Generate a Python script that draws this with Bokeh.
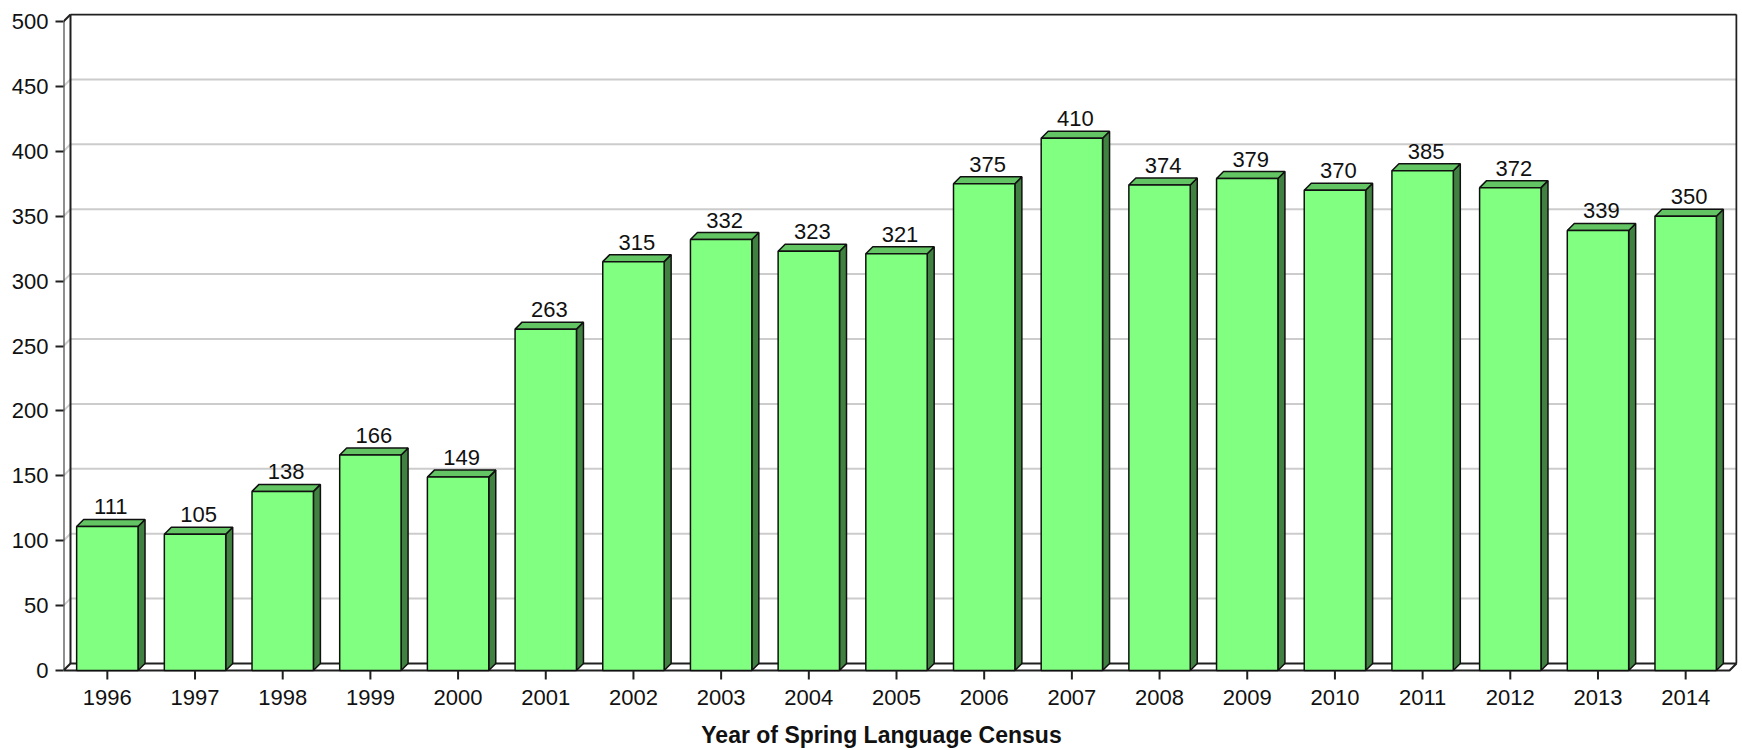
from bokeh.plotting import figure
from bokeh.models import FixedTicker, Range1d
from bokeh.core.properties import value
from bokeh.embed import file_html
from bokeh.resources import INLINE

years = [1996, 1997, 1998, 1999, 2000, 2001, 2002, 2003, 2004, 2005,
         2006, 2007, 2008, 2009, 2010, 2011, 2012, 2013, 2014]
counts = [111, 105, 138, 166, 149, 263, 315, 332, 323, 321,
          375, 410, 374, 379, 370, 385, 372, 339, 350]
y_ticks = [0, 50, 100, 150, 200, 250, 300, 350, 400, 450, 500]
x_title = "Year of Spring Language Census"

FONT = "Liberation Sans"
W, H = 1742, 750
ML, MR, MT = 63, 5, 13
FRONT0 = 670          # pixel row of value 0 on the front plane
fw, fh = W - ML - MR, H - MT

n = len(years)
x0, x1 = -0.5, n - 0.5
ymax = 500
S = ymax / (FRONT0 - 21)          # data units per pixel, vertical
dy = 7 * S
dx = 7 * (x1 - x0) / (fw - 7)
SX = (x1 - x0 + dx) / (fw - 1)    # data units per pixel, horizontal

p = figure(width=W, height=H, output_backend="svg", toolbar_location=None,
           x_axis_location=None,
           x_range=Range1d(x0, x0 + fw * SX),
           y_range=Range1d(-(H - FRONT0) * S, (FRONT0 - MT) * S),
           min_border_left=ML, min_border_right=MR, min_border_top=MT, min_border_bottom=0)
p.outline_line_color = None
p.xgrid.visible = False
p.ygrid.visible = False
p.background_fill_color = "white"
p.border_fill_color = "white"

GRID = "#cccccc"
EDGE = "#202020"
TXT = "#111111"

# grid lines on the left wall (diagonals) and back wall
for t in y_ticks[1:-1]:
    p.line([x0, x0 + dx], [t, t + dy], line_color=GRID, line_width=2)
    p.line([x0 + dx, x1 + dx], [t + dy, t + dy], line_color=GRID, line_width=2)

# walls and floor edges
p.line([x0 + dx, x0 + dx], [dy, ymax + dy], line_color=EDGE, line_width=2)
p.line([x0 + dx, x1 + dx], [ymax + dy, ymax + dy], line_color=EDGE, line_width=2)
p.line([x1 + dx, x1 + dx], [dy, ymax + dy], line_color=EDGE, line_width=2)
p.line([x0, x0], [0, ymax], line_color=EDGE, line_width=2)
p.line([x0, x0 + dx], [ymax, ymax + dy], line_color=EDGE, line_width=2)
p.patch([x0, x1, x1 + dx, x0 + dx], [0, 0, dy, dy], fill_color="white",
        line_color=EDGE, line_width=2)

# bars
w = 0.35
xs = list(range(n))
side_x, side_y, top_x, top_y = [], [], [], []
for i, v in zip(xs, counts):
    side_x.append([i + w, i + w + dx, i + w + dx, i + w])
    side_y.append([0, dy, v + dy, v])
    top_x.append([i - w, i - w + dx, i + w + dx, i + w])
    top_y.append([v, v + dy, v + dy, v])

p.patches(side_x, side_y, fill_color="#408040", line_color="#101010", line_width=1.5)
p.patches(top_x, top_y, fill_color="#62c462", line_color="#101010", line_width=1.5)
p.quad(left=[i - w for i in xs], right=[i + w for i in xs], bottom=0, top=counts,
       fill_color="#80ff80", line_color="#101010", line_width=1.5)

p.text(x=[i + dx / 2 for i in xs], y=[v + dy + 5 * S for v in counts],
       text=[str(v) for v in counts],
       text_align="center", text_baseline="bottom",
       text_font=value(FONT), text_font_size="22px", text_color=TXT)

# category axis (ticks, labels, title) drawn below the floor
p.segment(x0=xs, y0=[0] * n, x1=xs, y1=[-9 * S] * n, line_color=EDGE, line_width=2)
p.text(x=xs, y=[-(697 - FRONT0) * S] * n, text=[str(y) for y in years],
       text_align="center", text_baseline="middle",
       text_font=value(FONT), text_font_size="22px", text_color=TXT)
p.text(x=[x0 + (881 - ML) * SX], y=[-(734 - FRONT0) * S], text=[x_title],
       text_align="center", text_baseline="middle", text_font_style="bold",
       text_font=value(FONT), text_font_size="23px", text_color=TXT)

# value axis
ax = p.yaxis[0]
ax.ticker = FixedTicker(ticks=y_ticks)
ax.axis_line_color = None
ax.major_tick_line_color = EDGE
ax.major_tick_line_width = 2
ax.major_tick_out = 8
ax.major_tick_in = 0
ax.minor_tick_line_color = None
ax.major_label_text_font = FONT
ax.major_label_text_font_size = "22px"
ax.major_label_text_color = TXT
ax.major_label_standoff = 7

open("out.html", "w").write(file_html(p, INLINE))
